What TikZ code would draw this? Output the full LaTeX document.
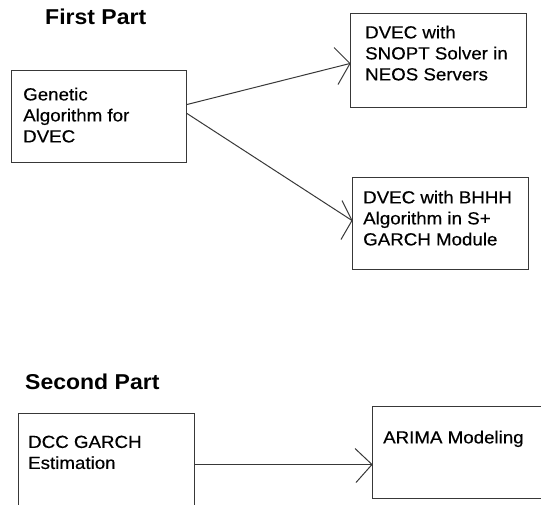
\documentclass[tikz,border=0pt]{standalone}
\usepackage{fontspec}
\newfontfamily\boxfont{Liberation Sans}[FakeStretch=1.07,FakeBold=0.4]
\newfontfamily\titlefont{Liberation Sans}[FakeStretch=1.07]
\begin{document}
\begin{tikzpicture}[x=1pt,y=-1pt,
  box/.style={draw=black!78,line width=1pt,minimum width=#1,anchor=north west,inner sep=0pt},
  lbl/.style={anchor=north west,inner sep=0pt,align=left,font=\boxfont\fontsize{17.5}{21}\selectfont},
  ttl/.style={anchor=north west,inner sep=0pt,font=\titlefont\bfseries\fontsize{21.5}{25}\selectfont},
  conn/.style={draw=black!78,line width=1pt}]
\useasboundingbox (0,0) rectangle (541,504);
\clip (0,0) rectangle (541,504);
% titles
\node[ttl] (t1title) at (45,8.5) {First Part};
\node[ttl] (t2title) at (25,374) {Second Part};
% boxes
\node[box=175pt,minimum height=92pt] (ga) at (11,70) {};
\node[box=176pt,minimum height=94pt] (sn) at (350,13) {};
\node[box=176pt,minimum height=92pt] (bh) at (352,177) {};
\node[box=176pt,minimum height=92pt] (dcc) at (18,413) {};
\node[box=190pt,minimum height=92pt] (ar) at (372,406) {};
% labels
\node[lbl] (galbl) at (23,87.5) {Genetic\\Algorithm for\\DVEC};
\node[lbl] (snlbl) at (365,25.5) {DVEC with\\SNOPT Solver in\\NEOS Servers};
\node[lbl] (bhlbl) at (363,190.5) {DVEC with BHHH\\Algorithm in S+\\GARCH Module};
\node[lbl] (dcclbl) at (28,435.5) {DCC GARCH\\Estimation};
\node[lbl] (arlbl) at (383,430.5) {ARIMA Modeling};
% connectors
\coordinate (tipA) at ([yshift=-3pt]sn.west);
\coordinate (tipB) at ([yshift=3pt]bh.west);
\coordinate (srcC) at ([yshift=-5pt]dcc.east);
\coordinate (tipC) at (srcC -| ar.west);
\draw[conn] ([yshift=12pt]ga.east) -- (tipA);
\draw[conn] ([shift={(-16,-16)}]tipA) -- (tipA) -- ([shift={(-12,21)}]tipA);
\draw[conn] ([yshift=3pt]ga.east) -- (tipB);
\draw[conn] ([shift={(-10,-20)}]tipB) -- (tipB) -- ([shift={(-11,19)}]tipB);
\draw[conn] (srcC) -- (tipC);
\draw[conn] ([shift={(-17,-16)}]tipC) -- (tipC) -- ([shift={(-16,18)}]tipC);
\end{tikzpicture}
\end{document}
